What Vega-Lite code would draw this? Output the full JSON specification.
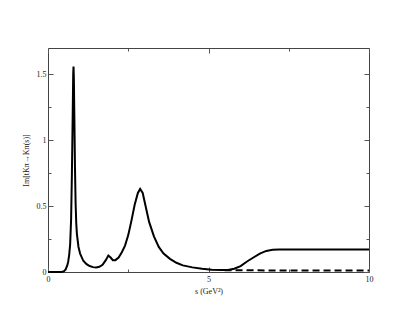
{
  "$schema": "https://vega.github.io/schema/vega-lite/v6.json",
  "width": 321,
  "height": 224,
  "autosize": {"type": "none"},
  "padding": {"left": 48, "top": 48, "right": 46, "bottom": 49},
  "background": "white",
  "config": {
    "view": {"stroke": "#444", "strokeWidth": 1},
    "font": "Liberation Serif",
    "axis": {
      "labelFont": "Liberation Serif", "titleFont": "Liberation Serif",
      "labelFontSize": 8, "titleFontSize": 8, "titleFontWeight": "normal",
      "domain": false, "grid": false, "tickColor": "#555",
      "labelColor": "#222", "titleColor": "#222", "labelOverlap": false, "labelBound": false, "labelFlush": false
    }
  },
  "datasets": {
    "solid": [
      {"s": 0, "v": 0}, {"s": 0.4, "v": 0}, {"s": 0.45, "v": 0.001}, {"s": 0.5, "v": 0.006},
      {"s": 0.55, "v": 0.02}, {"s": 0.6, "v": 0.05}, {"s": 0.63, "v": 0.08}, {"s": 0.66, "v": 0.13},
      {"s": 0.69, "v": 0.21}, {"s": 0.72, "v": 0.4}, {"s": 0.745, "v": 0.75}, {"s": 0.77, "v": 1.2},
      {"s": 0.785, "v": 1.5}, {"s": 0.795, "v": 1.56}, {"s": 0.805, "v": 1.48}, {"s": 0.82, "v": 1.2},
      {"s": 0.84, "v": 0.8}, {"s": 0.86, "v": 0.52}, {"s": 0.88, "v": 0.37}, {"s": 0.9, "v": 0.29},
      {"s": 0.95, "v": 0.19}, {"s": 1.0, "v": 0.14}, {"s": 1.1, "v": 0.085}, {"s": 1.2, "v": 0.06},
      {"s": 1.3, "v": 0.045}, {"s": 1.4, "v": 0.037}, {"s": 1.5, "v": 0.035}, {"s": 1.6, "v": 0.04},
      {"s": 1.7, "v": 0.055}, {"s": 1.8, "v": 0.09}, {"s": 1.88, "v": 0.125}, {"s": 1.95, "v": 0.11},
      {"s": 2.02, "v": 0.09}, {"s": 2.1, "v": 0.09}, {"s": 2.2, "v": 0.11}, {"s": 2.3, "v": 0.15},
      {"s": 2.4, "v": 0.2}, {"s": 2.5, "v": 0.28}, {"s": 2.6, "v": 0.39}, {"s": 2.7, "v": 0.51},
      {"s": 2.8, "v": 0.6}, {"s": 2.87, "v": 0.63}, {"s": 2.95, "v": 0.6}, {"s": 3.05, "v": 0.49},
      {"s": 3.15, "v": 0.38}, {"s": 3.3, "v": 0.27}, {"s": 3.45, "v": 0.19}, {"s": 3.6, "v": 0.14},
      {"s": 3.8, "v": 0.1}, {"s": 4.0, "v": 0.07}, {"s": 4.2, "v": 0.05}, {"s": 4.5, "v": 0.035},
      {"s": 4.8, "v": 0.025}, {"s": 5.1, "v": 0.018}, {"s": 5.4, "v": 0.015}, {"s": 5.6, "v": 0.016},
      {"s": 5.8, "v": 0.025}, {"s": 6.0, "v": 0.045}, {"s": 6.2, "v": 0.08}, {"s": 6.4, "v": 0.11},
      {"s": 6.6, "v": 0.14}, {"s": 6.8, "v": 0.16}, {"s": 7.0, "v": 0.168}, {"s": 7.2, "v": 0.17},
      {"s": 8.0, "v": 0.17}, {"s": 9.0, "v": 0.17}, {"s": 10.0, "v": 0.17}
    ],
    "dashed": [
      {"s": 5.5, "v": 0.014}, {"s": 6.0, "v": 0.013}, {"s": 7.0, "v": 0.012},
      {"s": 8.0, "v": 0.012}, {"s": 9.0, "v": 0.012}, {"s": 10.0, "v": 0.012}
    ]
  },
  "layer": [
    {
      "data": {"name": "dashed"},
      "mark": {"type": "line", "color": "black", "strokeWidth": 2, "strokeDash": [7, 4]},
      "encoding": {
        "x": {"field": "s", "type": "quantitative", "scale": {"domain": [0, 10], "nice": false},
          "axis": {"orient": "bottom", "values": [2.5, 7.5], "tickSize": -3, "labels": false, "title": null}},
        "y": {"field": "v", "type": "quantitative", "scale": {"domain": [0, 1.7], "nice": false},
          "axis": {"orient": "left", "values": [0.25, 0.75, 1.25], "tickSize": -3, "labels": false, "title": null}}
      }
    },
    {
      "data": {"name": "solid"},
      "mark": {"type": "line", "color": "black", "strokeWidth": 2},
      "encoding": {
        "x": {"field": "s", "type": "quantitative",
          "axis": {"orient": "bottom", "values": [0, 5, 10], "tickSize": -5, "labelPadding": 8,
            "title": "s (GeV²)", "titlePadding": 4, "format": "d"}},
        "y": {"field": "v", "type": "quantitative",
          "axis": {"orient": "left", "values": [0, 0.5, 1, 1.5], "tickSize": -5, "labelPadding": 7,
            "format": "~g", "title": "Im[tKπ→Kπ(s)]", "titlePadding": 6}}
      }
    },
    {
      "data": {"name": "solid"},
      "mark": {"type": "line", "strokeOpacity": 0},
      "encoding": {
        "x": {"field": "s", "type": "quantitative",
          "axis": {"orient": "top", "values": [0, 5, 10], "tickSize": -5, "labels": false, "title": null}},
        "y": {"field": "v", "type": "quantitative",
          "axis": {"orient": "right", "values": [0, 0.5, 1, 1.5], "tickSize": -5, "labels": false, "title": null}}
      }
    },
    {
      "data": {"name": "solid"},
      "mark": {"type": "line", "strokeOpacity": 0},
      "encoding": {
        "x": {"field": "s", "type": "quantitative",
          "axis": {"orient": "top", "values": [2.5, 7.5], "tickSize": -3, "labels": false, "title": null}},
        "y": {"field": "v", "type": "quantitative",
          "axis": {"orient": "right", "values": [0.25, 0.75, 1.25], "tickSize": -3, "labels": false, "title": null}}
      }
    }
  ],
  "resolve": {"axis": {"x": "independent", "y": "independent"}}
}
